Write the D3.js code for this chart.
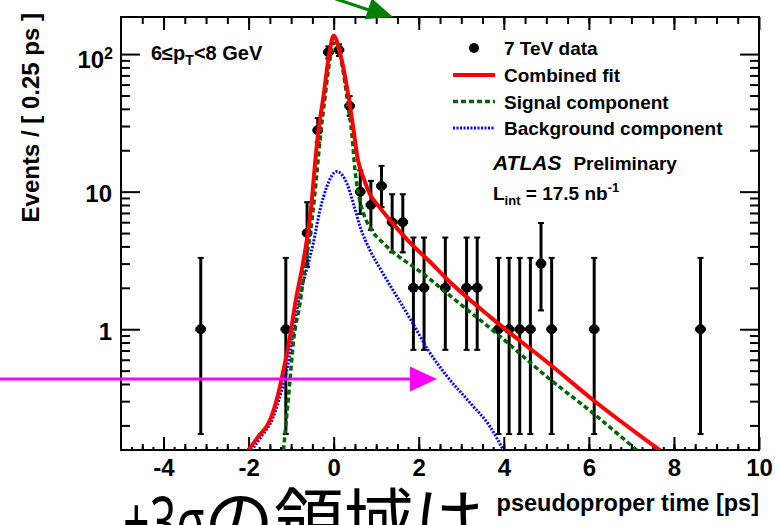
<!DOCTYPE html>
<html>
<head>
<meta charset="utf-8">
<script src="https://cdnjs.cloudflare.com/ajax/libs/d3/7.8.5/d3.min.js"></script>
<style>
  body { margin: 0; background: #fff; }
  svg { display: block; font-family: "Liberation Sans", Arial, sans-serif; }
</style>
</head>
<body>
<div class="container"></div>
<script>
//=================================================
// Data
//=================================================
// bin centres [ps] (bins of 0.25 ps) and entries per bin
var binCenters = [-3.125, -1.125, -0.625, -0.375, -0.125, 0.125, 0.375, 0.625, 0.875, 1.125, 1.375, 1.625,
                  1.875, 2.125, 2.625, 3.125, 3.375, 3.875, 4.125, 4.375, 4.625, 4.875, 5.125, 6.125, 8.625];
var counts     = [1, 1, 5, 28, 103, 107, 42, 10, 8, 11, 6, 6, 2, 2, 2, 2, 2, 1, 1, 1, 1, 3, 1, 1, 1];
// ends of the (asymmetric) error bars
var errLow  = [0.173, 0.173, 2.84, 22.8, 93.0, 96.8, 35.6, 6.89, 5.26, 7.73, 3.62, 3.62,
               0.708, 0.708, 0.708, 0.708, 0.708, 0.173, 0.173, 0.173, 0.173, 1.37, 0.173, 0.173, 0.173];
var errHigh = [3.30, 3.30, 8.38, 34.3, 113.7, 117.8, 49.5, 14.3, 11.98, 15.4, 9.58, 9.58,
               4.64, 4.64, 4.64, 4.64, 4.64, 3.30, 3.30, 3.30, 3.30, 5.92, 3.30, 3.30, 3.30];

// combined fit, sampled along the drawn curve
var fitX = [-2.01, -1.77, -1.5, -1.3, -1.18, -1.04, -0.89, -0.75, -0.63, -0.52, -0.44, -0.37, -0.24, -0.09, 0.0,
            0.15, 0.31, 0.46, 0.57, 0.7, 0.85, 1.09, 1.4, 1.87, 2.27, 2.66, 3.68, 5.16, 6.1, 7.67];
var fitY = [0.132, 0.166, 0.217, 0.343, 0.506, 0.836, 1.63, 2.7, 4.46, 8.25, 15.7, 25.9, 49.2, 107, 136,
            102, 58.1, 29.1, 17.0, 12.6, 9.64, 7.62, 5.83, 4.03, 3.08, 2.32, 1.23, 0.532, 0.306, 0.132];

// signal component
var sigX = [-1.18, -1.04, -0.95, -0.79, -0.65, -0.56, -0.44, -0.32, -0.2, -0.07, -0.01, 0.08, 0.23, 0.34,
            0.43, 0.5, 0.58, 0.7, 0.89, 1.17, 1.48, 1.87, 2.19, 2.66, 3.87, 5.01, 6.1, 7.13];
var sigY = [0.132, 0.383, 0.791, 1.55, 3.19, 4.71, 9.75, 23.8, 49.8, 98.9, 120, 115, 72.8, 41.6,
            25.9, 14.4, 9.75, 6.98, 5.27, 4.22, 3.47, 2.85, 2.41, 1.83, 0.909, 0.452, 0.245, 0.132];

// background component
var bkgX = [-1.93, -1.69, -1.43, -1.24, -1.1, -0.98, -0.82, -0.67, -0.48, -0.32, -0.16, 0.07, 0.31, 0.46,
            0.62, 0.85, 1.11, 1.49, 1.87, 2.22, 2.66, 3.21, 3.68, 3.99];
var bkgY = [0.132, 0.168, 0.226, 0.344, 0.506, 0.836, 1.63, 2.48, 4.22, 7.38, 10.9, 14.0, 11.5, 8.25,
            5.57, 3.77, 2.70, 1.72, 1.09, 0.707, 0.457, 0.291, 0.195, 0.132];

var xTicks = [-4, -2, 0, 2, 4, 6, 8, 10];
var yTicks = [1, 10, 100];
var legendLabels = ["7 TeV data", "Combined fit", "Signal component", "Background component"];

//=================================================
// Dimensions
//=================================================
var width = 775, height = 525;
var margin = { top: 17, right: 16, bottom: 75, left: 121 };
var plotLeft = margin.left, plotRight = width - margin.right;
var plotTop = margin.top, plotBottom = height - margin.bottom;

var xScale = d3.scaleLinear().domain([-5, 10]).range([plotLeft, plotRight]);
var yScale = d3.scaleLog().domain([0.1325, 186]).range([plotBottom, plotTop]);

var svg = d3.select(".container").
append("svg").
attr("width", width).
attr("height", height);

svg.append("clipPath").attr("id", "plotArea").
append("rect").
attr("x", plotLeft).attr("y", plotTop).
attr("width", plotRight - plotLeft).attr("height", plotBottom - plotTop);

//=================================================
// Ticks (all pointing into the frame)
//=================================================
function addTicks(axis, values, size, translate) {
  var g = svg.append("g").
  attr("transform", translate).
  call(axis.tickValues(values).tickSize(size).tickFormat(""));
  g.select(".domain").remove();
  g.selectAll("text").remove();
  g.selectAll("line").attr("stroke", "#000").attr("stroke-width", 2);
  return g;
}

var xQuarter = d3.range(-4.75, 10, 0.25);
var xHalf = d3.range(-4.5, 10, 0.5);
addTicks(d3.axisBottom(xScale), xQuarter, -3, "translate(0," + plotBottom + ")");
addTicks(d3.axisBottom(xScale), xHalf, -6, "translate(0," + plotBottom + ")");
addTicks(d3.axisTop(xScale), xHalf, -7, "translate(0," + plotTop + ")");
addTicks(d3.axisTop(xScale), xTicks, -13, "translate(0," + plotTop + ")");

// major x ticks with the labels
var xAxisG = svg.append("g").
attr("transform", "translate(0," + plotBottom + ")").
call(d3.axisBottom(xScale).tickValues(xTicks).tickSize(-13).tickPadding(9).tickFormat(d => String(d)));
xAxisG.select(".domain").remove();
xAxisG.selectAll("line").attr("stroke", "#000").attr("stroke-width", 2);
xAxisG.selectAll("text").
attr("font-family", "Liberation Sans, Arial, sans-serif").
attr("font-size", 24).
attr("font-weight", "bold").
attr("fill", "#000");

var yMinor = [];
[0.1, 1, 10, 100].forEach(function (d) {
  for (var k = 2; k <= 9; k++) {
    var v = k * d;
    if (v > 0.1325 && v < 186) yMinor.push(v);
  }
});
addTicks(d3.axisLeft(yScale), yMinor, -9, "translate(" + plotLeft + ",0)");
addTicks(d3.axisLeft(yScale), yTicks, -19, "translate(" + plotLeft + ",0)");
addTicks(d3.axisRight(yScale), yMinor, -9, "translate(" + plotRight + ",0)");
addTicks(d3.axisRight(yScale), yTicks, -19, "translate(" + plotRight + ",0)");

// y labels (10^2 needs a superscript)
var yLab = svg.append("g").
attr("font-size", 24).
attr("font-weight", "bold").
attr("text-anchor", "end");
yLab.append("text").attr("x", 112).attr("y", yScale(1) + 10.5).text("1");
yLab.append("text").attr("x", 112).attr("y", yScale(10) + 10.5).text("10");
var hundred = yLab.append("text").attr("x", 113).attr("y", yScale(100) + 13.5);
hundred.append("tspan").text("10");
hundred.append("tspan").attr("font-size", 16).attr("dy", -9).text("2");

// frame
svg.append("rect").
attr("x", plotLeft).attr("y", plotTop).
attr("width", plotRight - plotLeft).attr("height", plotBottom - plotTop).
attr("fill", "none").
attr("stroke", "#000").
attr("stroke-width", 2);

//=================================================
// Axis titles
//=================================================
svg.append("text").
attr("x", plotRight).attr("y", 511).
attr("text-anchor", "end").
attr("font-size", 23.5).
attr("font-weight", "bold").
text("pseudoproper time [ps]");

svg.append("text").
attr("transform", "translate(39,13) rotate(-90)").
attr("text-anchor", "end").
attr("font-size", 24).
attr("font-weight", "bold").
text("Events / [ 0.25 ps ]");

//=================================================
// Data points with error bars
//=================================================
var points = svg.append("g").attr("clip-path", "url(#plotArea)");
var halfBin = 0.125;

binCenters.forEach(function (c, i) {
  var px = xScale(c), py = yScale(counts[i]);
  var yl = yScale(errLow[i]), yh = yScale(errHigh[i]);
  points.append("line").
  attr("x1", px).attr("x2", px).attr("y1", yl).attr("y2", yh).
  attr("stroke", "#000").attr("stroke-width", 3);
  [yl, yh].forEach(function (ye) {
    points.append("line").
    attr("x1", px - 3).attr("x2", px + 3).attr("y1", ye).attr("y2", ye).
    attr("stroke", "#000").attr("stroke-width", 2);
  });
  points.append("line").
  attr("x1", xScale(c - halfBin)).attr("x2", xScale(c + halfBin)).attr("y1", py).attr("y2", py).
  attr("stroke", "#000").attr("stroke-width", 3.5);
  points.append("circle").
  attr("cx", px).attr("cy", py).attr("r", 5).
  attr("fill", "#000");
});

//=================================================
// Fit curves
//=================================================
var line = d3.line().
x(d => xScale(d[0])).
y(d => yScale(d[1])).
curve(d3.curveMonotoneX);

var curves = svg.append("g").attr("clip-path", "url(#plotArea)").attr("fill", "none");

curves.append("path").
attr("d", line(d3.zip(bkgX, bkgY))).
attr("stroke", "#0000ff").
attr("stroke-width", 3).
attr("stroke-dasharray", "2,1.5");

curves.append("path").
attr("d", line(d3.zip(sigX, sigY))).
attr("stroke", "#006400").
attr("stroke-width", 3.5).
attr("stroke-dasharray", "5,3");

curves.append("path").
attr("d", line(d3.zip(fitX, fitY))).
attr("stroke", "#ff0000").
attr("stroke-width", 4);

//=================================================
// Legend and labels
//=================================================
var legend = svg.append("g").attr("font-size", 19).attr("font-weight", "bold");
var rowY = [48, 75, 101.5, 128];

legend.append("circle").attr("cx", 474).attr("cy", rowY[0]).attr("r", 5).attr("fill", "#000");
legend.append("line").attr("x1", 453).attr("x2", 495).attr("y1", rowY[1]).attr("y2", rowY[1]).
attr("stroke", "#ff0000").attr("stroke-width", 4);
legend.append("line").attr("x1", 453).attr("x2", 495).attr("y1", rowY[2]).attr("y2", rowY[2]).
attr("stroke", "#006400").attr("stroke-width", 3.5).attr("stroke-dasharray", "5,3");
legend.append("line").attr("x1", 453).attr("x2", 495).attr("y1", rowY[3]).attr("y2", rowY[3]).
attr("stroke", "#0000ff").attr("stroke-width", 3).attr("stroke-dasharray", "2,1.5");

legend.selectAll("text.entry").
data(legendLabels).
enter().
append("text").
attr("class", "entry").
attr("x", 504).
attr("y", (d, i) => rowY[i] + 7).
text(d => d);

var atlas = legend.append("text").attr("x", 493).attr("y", 170);
atlas.append("tspan").attr("font-style", "italic").attr("font-size", 21).text("ATLAS");
atlas.append("tspan").attr("dx", 12).text("Preliminary");

var lumi = legend.append("text").attr("x", 493).attr("y", 199.5);
lumi.append("tspan").text("L");
lumi.append("tspan").attr("font-size", 13).attr("dy", 5).text("int");
lumi.append("tspan").attr("dy", -5).text(" = 17.5 nb");
lumi.append("tspan").attr("font-size", 13).attr("dy", -8).text("-1");

var ptLabel = svg.append("text").
attr("x", 151).attr("y", 60).
attr("font-size", 20).
attr("font-weight", "bold");
ptLabel.append("tspan").text("6\u2264p");
ptLabel.append("tspan").attr("font-size", 14).attr("dy", 5).text("T");
ptLabel.append("tspan").attr("dy", -5).text("<8 GeV");

//=================================================
// Annotations drawn over the plot
//=================================================
svg.append("line").
attr("x1", 0).attr("x2", 412).attr("y1", 379).attr("y2", 379).
attr("stroke", "#ff00ff").attr("stroke-width", 3);
svg.append("polygon").
attr("points", "410,366.5 437,379 410,391.5").
attr("fill", "#ff00ff");

svg.append("line").
attr("x1", 330).attr("y1", -3).attr("x2", 372).attr("y2", 11).
attr("stroke", "#008000").attr("stroke-width", 3);
svg.append("polygon").
attr("points", "364.8,19.2 393,17 371.8,-1.6").
attr("fill", "#008000");

var note = svg.append("text").attr("y", 547).attr("fill", "#000");
note.append("tspan").
attr("x", 123).
attr("font-family", "Noto Sans, sans-serif").
attr("font-size", 70).
attr("textLength", 82).
attr("lengthAdjust", "spacingAndGlyphs").
text("\u00b13\u03c3");
note.append("tspan").
attr("x", 204).
attr("font-family", "Noto Sans CJK JP, sans-serif").
attr("font-size", 70).
text("の領域は");
</script>
</body>
</html>
